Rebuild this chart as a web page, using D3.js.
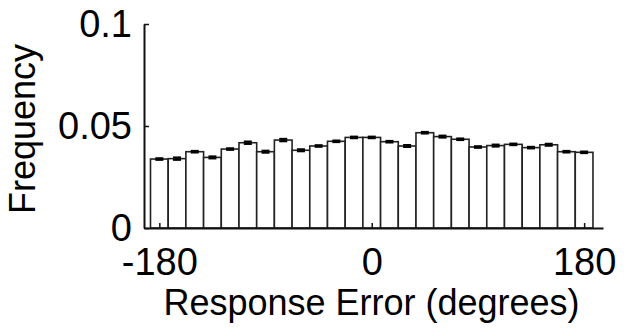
<!DOCTYPE html>
<html>
<head>
<meta charset="utf-8">
<script src="https://cdnjs.cloudflare.com/ajax/libs/d3/7.8.5/d3.min.js"></script>
<style>
  body { margin: 0; background: #fff; }
  text { font-family: "Liberation Sans", Arial, sans-serif; fill: #000; }
</style>
</head>
<body>
<div id="area"></div>
<script>
var width = 628;
var height = 333;

// bin centres (degrees)
var binCenters = [-180, -165, -150, -135, -120, -105, -90, -75, -60, -45, -30, -15, 0,
                  15, 30, 45, 60, 75, 90, 105, 120, 135, 150, 165, 180];
// frequency per bin
var freqValues = [0.0338, 0.0340, 0.0374, 0.0346, 0.0387, 0.0418, 0.0374, 0.0431, 0.0381,
                  0.0402, 0.0425, 0.0444, 0.0444, 0.0423, 0.0402, 0.0467, 0.0448, 0.0435,
                  0.0397, 0.0404, 0.0410, 0.0394, 0.0408, 0.0374, 0.0371];
// standard error per bin
var errValues = [0.0004, 0.0006, 0.0004, 0.0005, 0.0004, 0.0006, 0.0005, 0.0006, 0.0005,
                 0.0004, 0.0004, 0.0004, 0.0004, 0.0004, 0.0005, 0.0004, 0.0005, 0.0004,
                 0.0004, 0.0005, 0.0004, 0.0004, 0.0005, 0.0004, 0.0004];
var binWidth = 15;

var xTicks = [-180, 0, 180];
var xTickLabels = ["-180", "0", "180"];
var yTicks = [0, 0.05, 0.1];
var yTickLabels = ["0", "0.05", "0.1"];

var x = d3.scaleLinear().domain([-193, 196]).range([144, 603]);
var y = d3.scaleLinear().domain([0, 0.1]).range([228, 24]);

var svg = d3.select("#area").append("svg")
    .attr("width", width)
    .attr("height", height);

var data = binCenters.map(function(c, i) { return {c: c, f: freqValues[i], e: errValues[i]}; });

// bars
svg.append("g").selectAll("rect")
    .data(data)
    .enter().append("rect")
    .attr("x", function(d) { return x(d.c - binWidth / 2); })
    .attr("y", function(d) { return y(d.f); })
    .attr("width", function(d) { return x(d.c + binWidth / 2) - x(d.c - binWidth / 2); })
    .attr("height", function(d) { return y(0) - y(d.f); })
    .attr("fill", "#fff")
    .attr("stroke", "#222")
    .attr("stroke-width", 1.6);

// error bars
var eb = svg.append("g").attr("stroke", "#000").attr("stroke-width", 2);
data.forEach(function(d) {
    var cx = x(d.c);
    eb.append("line")
        .attr("x1", cx).attr("x2", cx)
        .attr("y1", y(d.f - d.e)).attr("y2", y(d.f + d.e));
    [d.f - d.e, d.f + d.e].forEach(function(v) {
        eb.append("line")
            .attr("x1", cx - 4).attr("x2", cx + 4)
            .attr("y1", y(v)).attr("y2", y(v));
    });
});

// X - Achse
var xAxis = svg.append("g")
    .attr("transform", "translate(0,228)")
    .call(d3.axisBottom(x).tickValues(xTicks)
        .tickFormat(function(d, i) { return xTickLabels[i]; })
        .tickSizeInner(-5).tickSizeOuter(0).tickPadding(10));
xAxis.select(".domain").attr("stroke", "#111").attr("stroke-width", 2);
xAxis.selectAll(".tick line").attr("stroke", "#111").attr("stroke-width", 1.5);
xAxis.selectAll("text")
    .style("font-size", "38px")
    .attr("y", 0)
    .attr("dy", "47px");

// Y - Achse
var yAxis = svg.append("g")
    .attr("transform", "translate(144,0)")
    .call(d3.axisLeft(y).tickValues(yTicks)
        .tickFormat(function(d, i) { return yTickLabels[i]; })
        .tickSizeInner(-5).tickSizeOuter(0).tickPadding(12));
yAxis.select(".domain").attr("stroke", "#111").attr("stroke-width", 2);
yAxis.selectAll(".tick line").attr("stroke", "#111").attr("stroke-width", 1.5);
yAxis.selectAll("text")
    .style("font-size", "38px")
    .attr("dy", "0.34em");

// Achsenbeschriftung
svg.append("text")
    .attr("x", 371.5)
    .attr("y", 315)
    .attr("text-anchor", "middle")
    .style("font-size", "36px")
    .text("Response Error (degrees)");

svg.append("text")
    .attr("transform", "translate(35,129) rotate(-90)")
    .attr("text-anchor", "middle")
    .style("font-size", "36px")
    .text("Frequency");
</script>
</body>
</html>
